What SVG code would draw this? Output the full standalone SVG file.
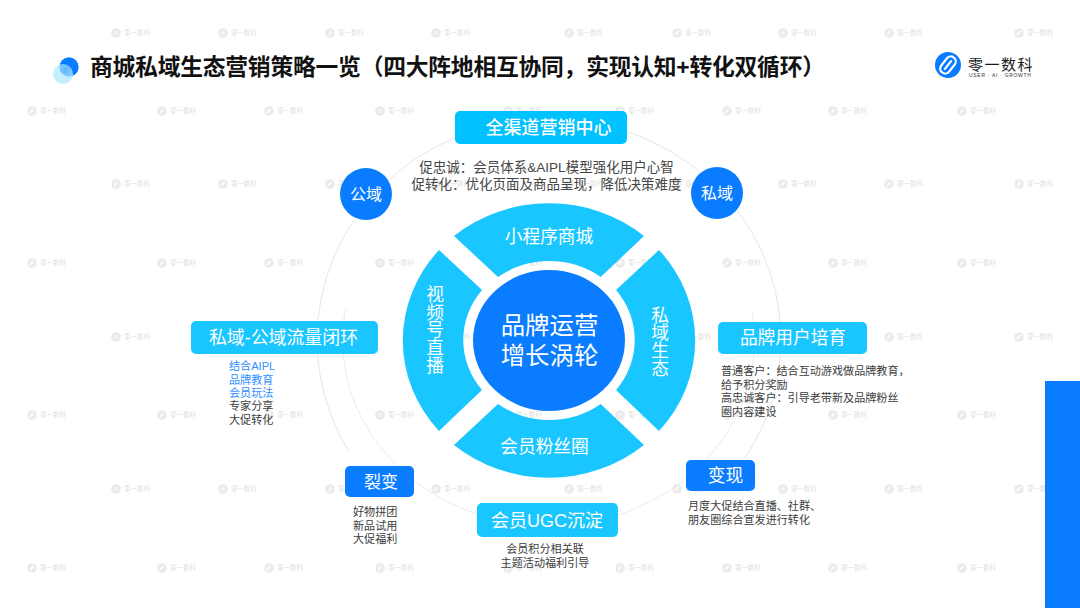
<svg xmlns="http://www.w3.org/2000/svg" width="1080" height="608" viewBox="0 0 1080 608">
<defs>
<style>
text{font-family:"Liberation Sans","Noto Sans CJK SC",sans-serif}
.w{fill:#fff;text-anchor:middle}
.b{font-size:17.700px}
.v{writing-mode:vertical-rl}
.s{font-size:11.100px;fill:#3c3c3c}
.a{fill:#2f8fff}
.m{font-size:13.500px;fill:#454545;text-anchor:middle}
.c{font-size:11.100px;fill:#3c3c3c;text-anchor:middle}
.dk{fill:#0a7cff}
.lt{fill:#1ac6ff}
.ring{fill:none;stroke:#e6e6e6;stroke-width:1}
</style>
<radialGradient id="glow" cx="0.6" cy="0.3" r="0.8"><stop offset="0" stop-color="#a8e6ff" stop-opacity="0.55"/><stop offset="1" stop-color="#bdeeff" stop-opacity="0.95"/></radialGradient>
<g id="wm" opacity="0.42">
<circle cx="0" cy="0" r="4.800" fill="#d0d0d0"/>
<path d="M-2 2 L1.500 -2" stroke="#fff" stroke-width="1.300" fill="none"/>
<text x="8" y="1.800" font-size="6.500" fill="#b4b4b4">零一数科</text>
</g>
</defs>
<rect width="1080" height="608" fill="#fff"/>
<g id="watermarks">
<use href="#wm" x="116" y="33"/><use href="#wm" x="223" y="33"/><use href="#wm" x="330" y="33"/><use href="#wm" x="436" y="33"/><use href="#wm" x="569" y="33"/><use href="#wm" x="677" y="33"/><use href="#wm" x="783" y="33"/><use href="#wm" x="889" y="33"/><use href="#wm" x="1019" y="33"/>
<use href="#wm" x="32" y="111"/><use href="#wm" x="162" y="111"/><use href="#wm" x="269" y="111"/><use href="#wm" x="380" y="111"/><use href="#wm" x="508" y="111"/><use href="#wm" x="620" y="111"/><use href="#wm" x="727" y="111"/><use href="#wm" x="833" y="111"/><use href="#wm" x="962" y="111"/>
<use href="#wm" x="116" y="184"/><use href="#wm" x="223" y="184"/><use href="#wm" x="330" y="184"/><use href="#wm" x="436" y="184"/><use href="#wm" x="569" y="184"/><use href="#wm" x="677" y="184"/><use href="#wm" x="783" y="184"/><use href="#wm" x="889" y="184"/><use href="#wm" x="1019" y="184"/>
<use href="#wm" x="32" y="263"/><use href="#wm" x="162" y="263"/><use href="#wm" x="269" y="263"/><use href="#wm" x="380" y="263"/><use href="#wm" x="508" y="263"/><use href="#wm" x="620" y="263"/><use href="#wm" x="727" y="263"/><use href="#wm" x="833" y="263"/><use href="#wm" x="962" y="263"/>
<use href="#wm" x="116" y="337"/><use href="#wm" x="223" y="337"/><use href="#wm" x="330" y="337"/><use href="#wm" x="436" y="337"/><use href="#wm" x="569" y="337"/><use href="#wm" x="677" y="337"/><use href="#wm" x="783" y="337"/><use href="#wm" x="889" y="337"/><use href="#wm" x="1019" y="337"/>
<use href="#wm" x="32" y="415"/><use href="#wm" x="162" y="415"/><use href="#wm" x="269" y="415"/><use href="#wm" x="380" y="415"/><use href="#wm" x="508" y="415"/><use href="#wm" x="620" y="415"/><use href="#wm" x="727" y="415"/><use href="#wm" x="833" y="415"/><use href="#wm" x="962" y="415"/>
<use href="#wm" x="116" y="489"/><use href="#wm" x="223" y="489"/><use href="#wm" x="330" y="489"/><use href="#wm" x="436" y="489"/><use href="#wm" x="569" y="489"/><use href="#wm" x="677" y="489"/><use href="#wm" x="783" y="489"/><use href="#wm" x="889" y="489"/><use href="#wm" x="1019" y="489"/>
<use href="#wm" x="32" y="568"/><use href="#wm" x="162" y="568"/><use href="#wm" x="269" y="568"/><use href="#wm" x="380" y="568"/><use href="#wm" x="508" y="568"/><use href="#wm" x="620" y="568"/><use href="#wm" x="727" y="568"/><use href="#wm" x="833" y="568"/><use href="#wm" x="962" y="568"/>
</g>
<rect id="side-bar" class="dk" x="1045" y="381" width="35" height="227"/>
<g id="title">
<circle cx="69" cy="67" r="9.700" class="dk"/>
<circle cx="63" cy="74" r="10" fill="url(#glow)"/>
<text x="90" y="74.500" font-size="22.800" font-weight="700" fill="#111" textLength="735">商城私域生态营销策略一览（四大阵地相互协同，实现认知+转化双循环）</text>
</g>
<g id="logo">
<circle cx="948" cy="65" r="13" class="dk"/>
<g fill="none" stroke="#fff" stroke-width="2.200" stroke-linecap="round" transform="rotate(38 948 65)">
<rect x="943" y="55.500" width="10" height="19" rx="5"/>
<path d="M948 60 V70"/>
</g>
<text x="968" y="70" font-size="15" fill="#1a1a1a" letter-spacing="1.500">零一数科</text>
<text x="969" y="77" font-size="5" fill="#333" letter-spacing="0.700">USER · AI · GROWTH</text>
</g>
<g id="rings">
<path class="ring" d="M348 450 A232 221 0 1 1 745 458"/>
<path class="ring" stroke-opacity="0.8" d="M345 310 A205 186 0 0 0 477 514"/>
<path class="ring" stroke-opacity="0.8" d="M618 515 A205 186 0 0 0 752 310"/>
</g>
<g id="node-top-sector"><path class="lt" d="M454 236 A146.500 137.500 0 0 1 644 236 L600.700 277 A85.500 80 0 0 0 498 277 Z"/><text class="w b" x="549" y="242.500">小程序商城</text></g>
<g id="node-left-sector"><path class="lt" d="M439 250 A146.500 137.500 0 0 0 439 431 L482 390 A85.500 80 0 0 1 482 290 Z"/><text class="w b v" x="433" y="329.500">视频号直播</text></g>
<g id="node-right-sector"><path class="lt" d="M659 250 A146.500 137.500 0 0 1 659 431 L616 390 A85.500 80 0 0 0 616 290 Z"/><text class="w b v" x="658" y="341.500">私域生态</text></g>
<g id="node-bottom-sector"><path class="lt" d="M454 445 A146.500 137.500 0 0 0 644 445 L600.700 404 A85.500 80 0 0 1 498 404 Z"/><text class="w b" x="544.500" y="452.500">会员粉丝圈</text></g>
<g id="node-center"><ellipse class="dk" cx="549" cy="340.500" rx="76" ry="70.500"/><text class="w" font-size="24.400" x="549.500" y="333.500">品牌运营<tspan x="549.500" y="363.500">增长涡轮</tspan></text></g>
<g id="node-omni"><rect x="455" y="111" width="172" height="33" rx="5" fill="#00c2ff"/><text class="w" font-size="18" font-weight="500" x="548.500" y="133.500">全渠道营销中心</text><text class="m" x="546.500" y="171.500">促忠诚：会员体系&amp;AIPL模型强化用户心智<tspan x="546.500" y="188.500">促转化：优化页面及商品呈现，降低决策难度</tspan></text></g>
<g id="node-public"><circle class="dk" cx="366" cy="194" r="26"/><text class="w" font-size="16" x="366" y="199.500">公域</text></g>
<g id="node-private"><circle class="dk" cx="717" cy="193" r="26"/><text class="w" font-size="16" x="717" y="198.500">私域</text></g>
<g id="node-loop"><rect class="lt" x="191" y="321" width="187" height="33" rx="5"/><text class="w" font-size="17.900" x="283.500" y="343.500">私域-公域流量闭环</text><text class="s" x="229" y="370"><tspan class="a">结合AIPL</tspan><tspan class="a" x="229" y="383.500">品牌教育</tspan><tspan class="a" x="229" y="397">会员玩法</tspan><tspan x="229" y="410">专家分享</tspan><tspan x="229" y="424">大促转化</tspan></text></g>
<g id="node-brand"><rect class="lt" x="718" y="322" width="149" height="32" rx="5"/><text class="w b" x="793" y="344">品牌用户培育</text><text class="s" x="721" y="375">普通客户：结合互动游戏做品牌教育，<tspan x="721" y="388.500">给予积分奖励</tspan><tspan x="721" y="402">高忠诚客户：引导老带新及品牌粉丝</tspan><tspan x="721" y="415.500">圈内容建设</tspan></text></g>
<g id="node-monetize"><rect class="dk" x="686" y="460" width="69" height="31" rx="5"/><text class="w b" x="725.500" y="482">变现</text><text class="s" x="688" y="510">月度大促结合直播、社群、<tspan x="688" y="523.500">朋友圈综合宣发进行转化</tspan></text></g>
<g id="node-fission"><rect class="dk" x="345" y="466" width="69" height="31" rx="5"/><text class="w" font-size="17" x="381" y="487.500">裂变</text><text class="s" x="353" y="516">好物拼团<tspan x="353" y="529.500">新品试用</tspan><tspan x="353" y="543">大促福利</tspan></text></g>
<g id="node-ugc"><rect class="lt" x="477" y="503" width="141" height="34" rx="5"/><text class="w" font-size="18" x="547" y="526.500">会员UGC沉淀</text><text class="c" x="545" y="553">会员积分相关联<tspan x="545" y="567">主题活动福利引导</tspan></text></g>
</svg>
